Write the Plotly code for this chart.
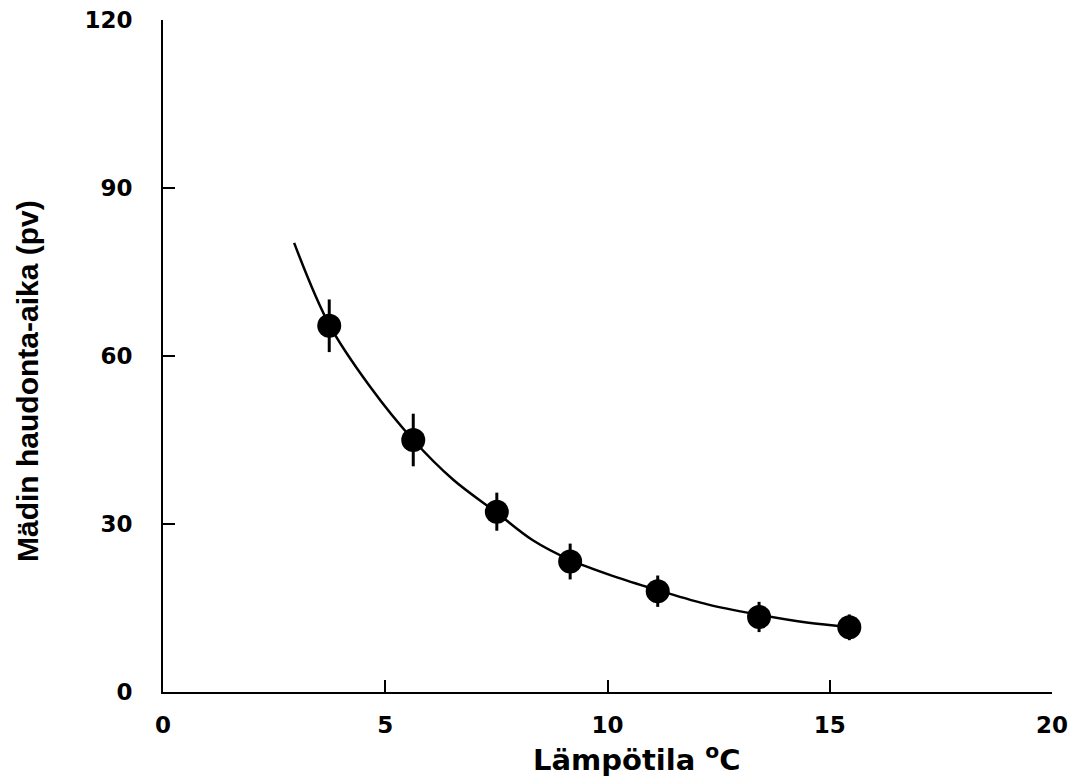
import plotly.graph_objects as go

# Measured points (temperature °C, incubation days, error)
temp = [3.74, 5.63, 7.51, 9.16, 11.13, 13.41, 15.44]
days = [65.4, 45.0, 32.2, 23.3, 18.0, 13.4, 11.55]
err = [4.7, 4.7, 3.4, 3.2, 2.8, 2.7, 2.3]

# Fitted curve
curve_x = [2.95, 3.74, 4.66, 5.63, 6.53, 7.51, 8.32, 9.16, 10.13, 11.13, 12.27, 13.41, 14.48, 15.44]
curve_y = [80.2, 65.6, 54.5, 45.0, 37.9, 32.0, 27.1, 23.6, 20.7, 18.2, 15.6, 13.8, 12.4, 11.6]

x_ticks = [0, 5, 10, 15, 20]
y_ticks = [0, 30, 60, 90, 120]

fig = go.Figure()
fig.add_trace(go.Scatter(x=curve_x, y=curve_y, mode="lines",
                         line=dict(color="black", width=2.5, shape="spline", smoothing=1.0),
                         showlegend=False, hoverinfo="skip"))
fig.add_trace(go.Scatter(x=temp, y=days, mode="markers",
                         marker=dict(color="black", size=24, line=dict(width=0)),
                         error_y=dict(type="data", array=err, visible=True, color="black",
                                      thickness=3, width=0),
                         showlegend=False))

tickfont = dict(family="DejaVu Sans", size=23, color="black", weight="bold")
fig.update_xaxes(range=[0, 20], tickvals=x_ticks, ticks="inside", ticklen=12, tickwidth=2,
                 tickcolor="black", showline=True, linecolor="black", linewidth=2,
                 showgrid=False, zeroline=False, tickfont=tickfont, ticklabelstandoff=11,
                 automargin=False)
fig.update_yaxes(range=[0, 120], tickvals=y_ticks, ticks="inside", ticklen=12, tickwidth=2,
                 tickcolor="black", showline=True, linecolor="black", linewidth=2,
                 showgrid=False, zeroline=False, tickfont=tickfont, ticklabelstandoff=24,
                 automargin=False)

fig.add_annotation(text="Lämpötila <sup>o</sup>C", xref="paper", yref="paper",
                   x=(637 - 163) / 889, y=(692 - 758) / 672, xanchor="center", yanchor="middle",
                   showarrow=False,
                   font=dict(family="DejaVu Sans", size=29, color="black", weight="bold"))
fig.add_annotation(text="Mädin haudonta-aika (pv)", xref="paper", yref="paper",
                   x=(27 - 163) / 889, y=(692 - 381) / 672, xanchor="center", yanchor="middle",
                   textangle=-90, showarrow=False,
                   font=dict(family="Liberation Sans", size=30, color="black", weight="bold"))

fig.update_layout(width=1071, height=780, margin=dict(l=163, r=19, t=20, b=88),
                  plot_bgcolor="white", paper_bgcolor="white")
fig.write_html("out.html", config={"displayModeBar": False},
               post_script="document.body.style.margin='0';document.body.style.padding='0';")
